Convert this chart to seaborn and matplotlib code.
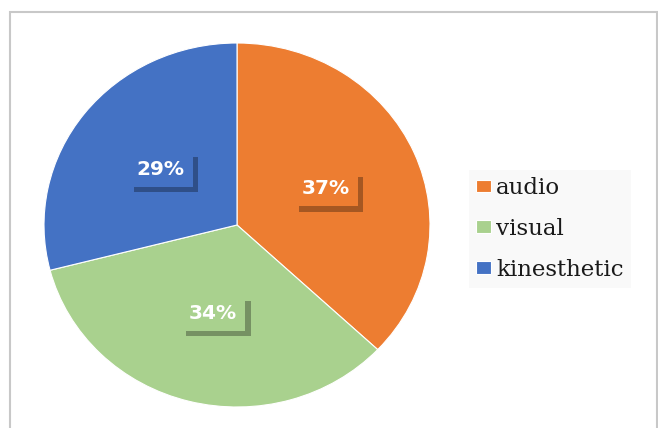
import matplotlib
matplotlib.use("Agg")
import matplotlib.pyplot as plt
import matplotlib.patheffects as pe
from matplotlib.patches import Rectangle
import seaborn as sns

categories = ["audio", "visual", "kinesthetic"]
values = [37, 34, 29]
colors = ["#ED7D31", "#A9D18E", "#4472C4"]

sns.set_theme(style="white")
plt.rcParams['font.family'] = ['DejaVu Sans']

fig = plt.figure(figsize=(6.58, 4.28), dpi=100)
fig.patch.set_facecolor("white")

# outer frame
fig.add_artist(Rectangle((10/658, -0.1), (647)/658, 1.1 - 12/428,
                         transform=fig.transFigure, fill=False,
                         edgecolor="#c8c8c8", linewidth=1.5))

ax = fig.add_axes([44/658, 21/428, 386/658, 364/428])
wedges, texts, autotexts = ax.pie(
    values, colors=colors, startangle=90, counterclock=False,
    autopct=lambda p: f"{p:.0f}%", pctdistance=0.5,
    wedgeprops=dict(linewidth=0.8, edgecolor="white"),
    textprops=dict(color="white", fontsize=14.5, fontweight="bold"),
)
ax.set_xlim(-1, 1)
ax.set_ylim(-1, 1)
ax.set_aspect("auto")
ax.axis("off")

for t, c in zip(autotexts, colors):
    t.set_bbox(dict(boxstyle="square,pad=0.4", facecolor=c, edgecolor="none"))
    t.get_bbox_patch().set_path_effects([
        pe.SimplePatchShadow(offset=(4, -4), shadow_rgbFace="black", alpha=0.3),
        pe.Normal()])

leg = fig.legend(wedges, categories, loc="center left",
                 bbox_to_anchor=(458/658, 1 - 229/428),
                 frameon=True, facecolor="#f8f8f8", edgecolor="none",
                 fancybox=False,
                 prop=dict(family="DejaVu Serif", size=16.5),
                 handlelength=0.65, handleheight=0.48, handletextpad=0.22,
                 labelspacing=0.82, borderpad=0.3)
for txt in leg.get_texts():
    txt.set_color("#1a1a1a")

fig.savefig("out.png", dpi=100)
